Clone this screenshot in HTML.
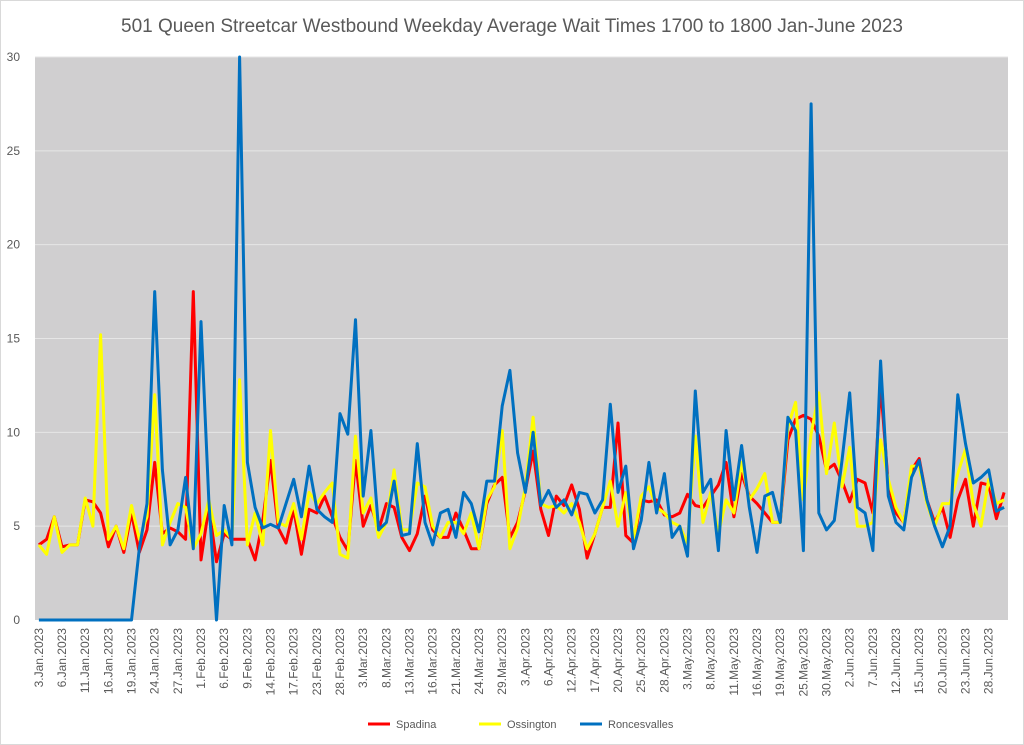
<!DOCTYPE html>
<html><head><meta charset="utf-8"><style>
body{margin:0;background:#fff;}
svg{display:block;font-family:"Liberation Sans",sans-serif;}
</style></head><body>
<svg id="chart" width="1024" height="745" viewBox="0 0 1024 745">
<rect x="0.5" y="0.5" width="1023" height="744" fill="#fff" stroke="#d9d9d9"/>
<text x="512" y="32" text-anchor="middle" font-size="19" fill="#595959">501 Queen Streetcar Westbound Weekday Average Wait Times 1700 to 1800 Jan-June 2023</text>
<rect x="35" y="57" width="973" height="563" fill="#d0cfd0"/>
<g id="grid"></g><g id="yticks"></g><g id="xticks"></g><g id="series"></g>
<g>
<g><line x1="368" y1="724" x2="390" y2="724" stroke="#ff0000" stroke-width="3"/><text x="396" y="728" font-size="11" fill="#595959">Spadina</text></g>
<g><line x1="479" y1="724" x2="501" y2="724" stroke="#ffff00" stroke-width="3"/><text x="507" y="728" font-size="11" fill="#595959">Ossington</text></g>
<g><line x1="580" y1="724" x2="602" y2="724" stroke="#0070c0" stroke-width="3"/><text x="608" y="728" font-size="11" fill="#595959">Roncesvalles</text></g>
</g>
</svg>
<script>
const holidays = ["2023-02-20","2023-04-07","2023-05-22"];
const spadina = [4.0,4.3,5.5,3.9,4.0,4.0,6.4,6.3,5.7,3.9,
5.0,3.6,5.7,3.6,4.8,8.4,4.6,4.9,4.7,4.3,
17.5,3.2,6.0,3.1,4.6,4.3,4.3,4.3,3.2,5.3,
8.5,4.9,4.1,5.9,3.5,5.9,5.7,6.6,5.5,4.4,
3.7,8.5,5.0,6.1,4.8,6.2,6.0,4.4,3.7,4.6,
6.6,4.8,4.4,4.4,5.7,4.8,3.8,3.8,6.2,7.2,
7.6,4.4,5.2,6.9,9.0,5.9,4.5,6.6,6.1,7.2,
5.9,3.3,4.6,6.0,6.0,10.5,4.5,4.1,6.4,6.3,
6.4,5.6,5.5,5.7,6.7,6.1,6.0,6.6,7.2,8.4,
5.5,7.8,6.6,6.2,5.7,5.2,5.2,9.6,10.7,10.9,
10.7,9.8,8.0,8.3,7.4,6.3,7.5,7.3,5.7,12.5,
7.2,5.7,5.2,8.0,8.6,6.4,5.2,6.0,4.4,6.4,
7.5,5.0,7.3,7.2,5.4,6.8];
const ossington = [4.0,3.5,5.5,3.6,4.0,4.0,6.5,5.0,15.2,4.3,
5.0,3.8,6.1,4.3,5.5,12.0,4.0,5.2,6.2,6.0,
3.8,4.6,6.4,4.5,4.8,4.3,12.8,4.0,5.7,4.0,
10.1,5.2,5.0,6.2,4.3,6.8,6.2,6.8,7.3,3.5,
3.3,9.8,5.7,6.5,4.4,5.2,8.0,4.8,4.8,7.3,
7.1,5.0,4.4,5.2,5.2,4.6,5.7,3.8,6.4,7.1,
10.1,3.8,4.9,7.1,10.8,6.2,6.0,6.1,5.7,6.2,
5.2,3.8,4.6,6.0,7.4,5.0,6.8,4.3,6.6,7.1,
6.0,5.7,5.2,5.0,4.1,9.8,5.2,6.8,4.6,6.4,
5.7,8.4,6.4,7.0,7.8,5.2,5.2,10.3,11.6,6.4,
9.9,12.1,7.8,10.5,7.1,9.2,5.0,5.0,5.2,9.6,
7.5,6.0,5.2,8.2,8.2,6.2,5.0,6.2,6.2,7.8,
9.1,6.2,5.0,7.5,6.2,6.4];
const roncesvalles = [0,0,0,0,0,0,0,0,0,0,
0,0,0,3.8,6.2,17.5,8.0,4.0,4.8,7.6,
3.8,15.9,6.4,0,6.1,4.0,30,8.4,6.0,4.9,
5.1,4.9,6.2,7.5,5.5,8.2,5.9,5.5,5.2,11.0,
9.9,16.0,6.6,10.1,4.8,5.2,7.4,4.5,4.6,9.4,
5.2,4.0,5.7,5.9,4.4,6.8,6.2,4.7,7.4,7.4,
11.4,13.3,8.9,6.8,10.0,6.1,6.9,6.0,6.4,5.6,
6.8,6.7,5.7,6.4,11.5,6.8,8.2,3.8,5.3,8.4,
5.7,7.8,4.4,5.0,3.4,12.2,6.8,7.5,3.7,10.1,
6.4,9.3,6.0,3.6,6.6,6.8,5.2,10.8,10.1,3.7,
27.5,5.7,4.8,5.3,8.5,12.1,6.0,5.7,3.7,13.8,
6.6,5.2,4.8,7.6,8.5,6.4,5.0,3.9,5.0,12.0,
9.4,7.3,7.6,8.0,5.8,6.0];
const yTicks = [0,5,10,15,20,25,30];
const monthNames = ["Jan","Feb","Mar","Apr","May","Jun"];

// build weekday categories
const categories = [];
for (let d = new Date(Date.UTC(2023,0,3)); d <= new Date(Date.UTC(2023,5,30)); d.setUTCDate(d.getUTCDate()+1)) {
  const wd = d.getUTCDay();
  const iso = d.toISOString().slice(0,10);
  if (wd === 0 || wd === 6 || holidays.includes(iso)) continue;
  categories.push(d.getUTCDate() + "." + monthNames[d.getUTCMonth()] + ".2023");
}

const NS = "http://www.w3.org/2000/svg";
const L = 35, R = 1008, T = 57, B = 620, YMAX = 30;
const step = (R - L) / categories.length;
const xPos = i => L + (i + 0.5) * step;
const yPos = v => B - (v / YMAX) * (B - T);
function mk(tag, attrs, parent) {
  const el = document.createElementNS(NS, tag);
  for (const k in attrs) el.setAttribute(k, attrs[k]);
  parent.appendChild(el);
  return el;
}
const grid = document.getElementById("grid");
const yt = document.getElementById("yticks");
yTicks.forEach(v => {
  if (v > 0) {
    const g = mk("line", {x1: L, x2: R, y1: yPos(v), y2: yPos(v), stroke: "#e6e6e6", "stroke-width": 1}, grid);
    
    
  }
  const t = mk("text", {x: 20, y: yPos(v) + 4, "text-anchor": "end", "font-size": 12, fill: "#595959"}, yt);
  t.textContent = v;
  
  
});
const xt = document.getElementById("xticks");
categories.forEach((c, i) => {
  if (i % 3 !== 0) return;
  const x = xPos(i) + 4;
  const t = mk("text", {x: x, y: 628, transform: `rotate(-90 ${x} 628)`, "text-anchor": "end", "font-size": 12, fill: "#595959"}, xt);
  t.textContent = c;
  
  
});
const sg = document.getElementById("series");
[[spadina, "#ff0000", "spadina-line"], [ossington, "#ffff00", "ossington-line"], [roncesvalles, "#0070c0", "roncesvalles-line"]].forEach(([arr, col, nm]) => {
  const pts = arr.map((v, i) => xPos(i).toFixed(1) + "," + yPos(v).toFixed(1)).join(" ");
  const p = mk("polyline", {points: pts, fill: "none", stroke: col, "stroke-width": 3, "stroke-linejoin": "round"}, sg);
  
  
});
</script>
</body></html>
